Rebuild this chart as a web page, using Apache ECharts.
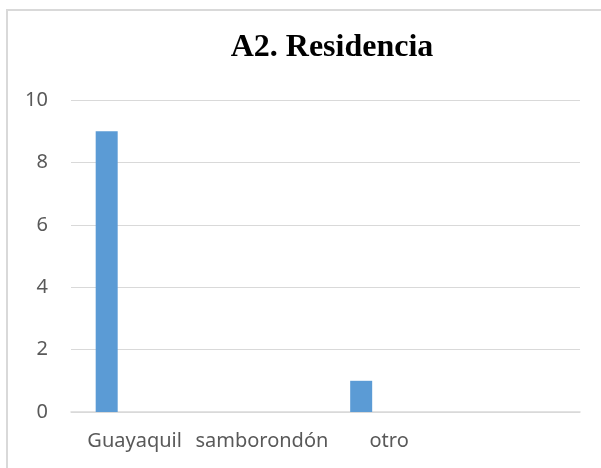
<!DOCTYPE html>
<html>
<head>
<meta charset="utf-8">
<script src="https://cdn.jsdelivr.net/npm/echarts@6/dist/echarts.min.js"></script>
<style>
  html, body { margin: 0; padding: 0; background: #fff; }
  #chart { width: 601px; height: 468px; }
</style>
</head>
<body>
<div id="chart"></div>
<script>
  // categories and values
  var categories = ['Guayaquil', 'samborondón', 'otro', '']
  var serie1 = [9, 0, 1, 0]
  var serie2 = [0, 0, 0, 0]
  var serie3 = [0, 0, 0, 0]
  var yTicks = [0, 2, 4, 6, 8, 10]

  var chart = echarts.init(document.getElementById('chart'))
  var barColor = '#5b9bd5'

  function bar(name, data) {
    return {
      name: name,
      type: 'bar',
      data: data,
      barWidth: 22,
      barGap: '27%',
      itemStyle: { color: barColor },
      silent: true
    }
  }

  chart.setOption({
    backgroundColor: '#fff',
    animation: false,
    title: {
      text: 'A2. Residencia',
      left: 327,
      top: 27,
      textAlign: 'center',
      textStyle: {
        fontFamily: 'Liberation Serif',
        fontWeight: 'bold',
        fontSize: 32,
        color: '#000'
      }
    },
    graphic: [{
      type: 'rect',
      shape: { x: 7, y: 10, width: 700, height: 600 },
      style: { fill: 'none', stroke: '#d9d9d9', lineWidth: 2 },
      silent: true
    }],
    grid: { left: 71, right: 21, top: 100, bottom: 56 },
    xAxis: {
      type: 'category',
      data: categories,
      axisTick: { show: false },
      axisLine: { lineStyle: { color: '#d9d9d9', width: 1.5 } },
      axisLabel: {
        interval: 0,
        margin: 19,
        color: '#595959',
        fontFamily: 'Noto Sans',
        fontSize: 20
      }
    },
    yAxis: {
      type: 'value',
      min: yTicks[0],
      max: yTicks[yTicks.length - 1],
      interval: 2,
      axisLine: { show: false },
      axisTick: { show: false },
      splitLine: { lineStyle: { color: '#d9d9d9', width: 1 } },
      axisLabel: {
        margin: 23,
        color: '#595959',
        fontFamily: 'Noto Sans',
        fontSize: 20
      }
    },
    series: [bar('s1', serie1), bar('s2', serie2), bar('s3', serie3)]
  })
</script>
</body>
</html>
